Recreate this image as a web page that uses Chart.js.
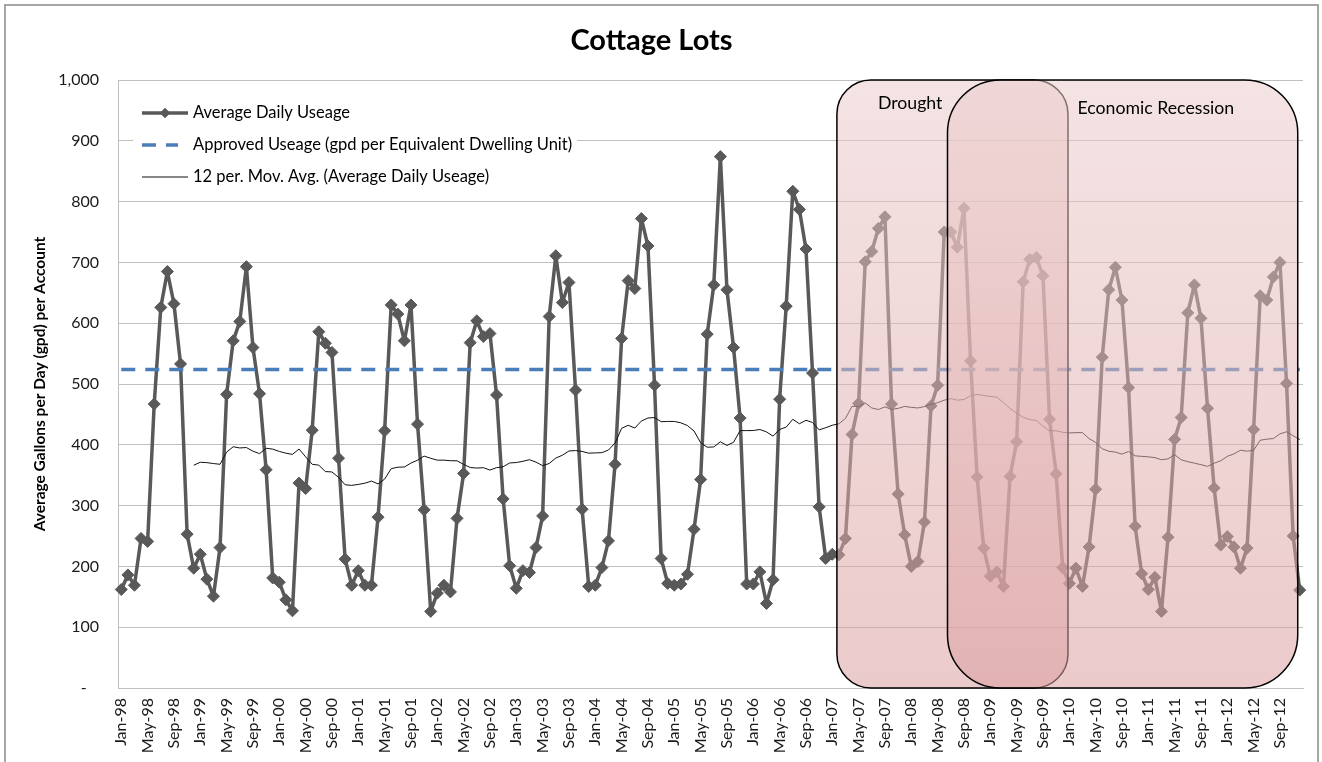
<!DOCTYPE html>
<html>
<head>
<meta charset="utf-8">
<title>Cottage Lots</title>
<script src="https://cdn.jsdelivr.net/npm/chart.js@4.4.1/dist/chart.umd.min.js"></script>
<style>
  html, body { margin: 0; padding: 0; background: #fff; }
  #wrap { position: relative; width: 1322px; height: 762px; }
</style>
</head>
<body>
<div id="wrap"><canvas id="usage-chart" width="1322" height="762"></canvas></div>
<script>
// Monthly average daily usage per account, Jan-98 .. Dec-12 (one row per year)
const monthNames = ['Jan', 'Feb', 'Mar', 'Apr', 'May', 'Jun', 'Jul', 'Aug', 'Sep', 'Oct', 'Nov', 'Dec'];
const years = ['98', '99', '00', '01', '02', '03', '04', '05', '06', '07', '08', '09', '10', '11', '12'];

const dailyUsage = [
  162, 186, 169, 246, 241, 467, 626, 685, 632, 533, 253, 197, // 1998
  220, 179, 151, 231, 483, 571, 603, 693, 560, 484, 359, 181, // 1999
  174, 145, 127, 337, 328, 424, 586, 567, 552, 378, 212, 169, // 2000
  193, 169, 169, 281, 423, 630, 615, 571, 630, 434, 293, 126, // 2001
  156, 169, 158, 279, 353, 568, 604, 578, 583, 482, 311, 201, // 2002
  164, 193, 190, 231, 283, 611, 711, 634, 667, 490, 294, 167, // 2003
  169, 198, 242, 368, 575, 670, 657, 772, 727, 498, 213, 172, // 2004
  169, 171, 187, 261, 343, 582, 663, 874, 655, 560, 444, 171, // 2005
  171, 191, 139, 178, 475, 628, 817, 787, 722, 518, 298, 213, // 2006
  220, 219, 246, 417, 468, 701, 718, 756, 775, 467, 319, 252, // 2007
  200, 208, 273, 464, 498, 750, 750, 725, 789, 538, 347, 230, // 2008
  184, 191, 167, 348, 405, 668, 705, 708, 678, 442, 352, 198, // 2009
  172, 197, 167, 232, 327, 544, 655, 692, 638, 494, 266, 188, // 2010
  162, 182, 126, 248, 409, 445, 617, 663, 608, 460, 329, 235, // 2011
  249, 232, 197, 230, 425, 645, 638, 676, 700, 501, 250, 161  // 2012
];

// approved gpd per equivalent dwelling unit
const approvedUsage = 524;

// shaded periods, in month index (0 = Jan-98)
const periods = [
  { label: 'Drought', from: 108.7, to: 143.8 },
  { label: 'Economic Recession', from: 125.5, to: 178.7 }
];

const months = [];
years.forEach(y => monthNames.forEach(m => months.push(m + '-' + y)));

// Excel style 12 period moving average trendline
function movingAverage(values, n) {
  return values.map((v, i) => {
    if (i < n - 1) return null;
    let sum = 0;
    for (let k = i - n + 1; k <= i; k++) sum += values[k];
    return sum / n;
  });
}

const FONT = 'Lato';

function roundedRect(ctx, x0, y0, x1, y1, r) {
  ctx.beginPath();
  ctx.moveTo(x0 + r, y0);
  ctx.arcTo(x1, y0, x1, y1, r);
  ctx.arcTo(x1, y1, x0, y1, r);
  ctx.arcTo(x0, y1, x0, y0, r);
  ctx.arcTo(x0, y0, x1, y0, r);
  ctx.closePath();
}

// white background + thin outer frame
const framePlugin = {
  id: 'frame',
  beforeDraw(chart) {
    const ctx = chart.ctx;
    ctx.save();
    ctx.fillStyle = '#fff';
    ctx.fillRect(0, 0, chart.width, chart.height);
    ctx.strokeStyle = '#a6a6a6';
    ctx.lineWidth = 2;
    ctx.strokeRect(5, 5, chart.width - 9, chart.height + 10);
    ctx.restore();
  }
};

// legend boxed inside the plot area, top left
const insideLegend = {
  id: 'insideLegend',
  beforeDatasetsDraw(chart) {
    const ctx = chart.ctx;
    const area = chart.chartArea;
    const x0 = area.left + 15;
    const top = area.top + 12;
    ctx.save();
    ctx.fillStyle = '#fff';
    ctx.fillRect(x0, top, 444, 103);
    ctx.font = '16.5px ' + FONT;
    ctx.textBaseline = 'middle';
    ctx.fillStyle = '#000';
    chart.data.datasets.forEach((ds, i) => {
      const y = top + 21 + i * 32;
      const sx = area.left + 24;
      const len = i === 1 ? 36 : 46;
      ctx.strokeStyle = ds.borderColor;
      ctx.lineWidth = ds.borderWidth;
      ctx.setLineDash(ds.borderDash || []);
      ctx.beginPath();
      ctx.moveTo(sx, y);
      ctx.lineTo(sx + len, y);
      ctx.stroke();
      ctx.setLineDash([]);
      if (ds.pointRadius > 0) {
        ctx.fillStyle = ds.backgroundColor;
        Chart.helpers.drawPoint(ctx, { pointStyle: ds.pointStyle, radius: 5, borderWidth: 0 }, sx + len / 2, y);
        ctx.fill();
      }
      ctx.fillStyle = '#000';
      ctx.fillText(ds.label, area.left + 75, y);
    });
    ctx.restore();
  }
};

// translucent rounded boxes marking the drought and the recession
const periodBoxes = {
  id: 'periodBoxes',
  afterDatasetsDraw(chart) {
    const ctx = chart.ctx;
    const xs = chart.scales.x;
    const ys = chart.scales.y;
    const top = ys.getPixelForValue(1000);
    const bottom = ys.getPixelForValue(0);
    const styles = [
      { radius: 34, textDx: 41, textDy: 23 },
      { radius: 53, textDx: 130, textDy: 28 }
    ];
    ctx.save();
    periods.forEach((p, i) => {
      const st = styles[i];
      const x0 = xs.getPixelForValue(p.from);
      const x1 = xs.getPixelForValue(p.to);
      const grad = ctx.createLinearGradient(0, top, 0, bottom);
      grad.addColorStop(0, 'rgba(236,205,205,0.55)');
      grad.addColorStop(1, 'rgba(219,159,160,0.55)');
      roundedRect(ctx, x0, top, x1, bottom, st.radius);
      ctx.fillStyle = grad;
      ctx.fill();
      ctx.strokeStyle = '#000';
      ctx.lineWidth = 1.5;
      ctx.stroke();
    });
    ctx.font = '17.7px ' + FONT;
    ctx.fillStyle = '#000';
    ctx.textBaseline = 'middle';
    periods.forEach((p, i) => {
      const st = styles[i];
      ctx.fillText(p.label, xs.getPixelForValue(p.from) + st.textDx, top + st.textDy);
    });
    ctx.restore();
  }
};

const ctx = document.getElementById('usage-chart');
const chart = new Chart(ctx, {
  type: 'line',
  data: {
    labels: months,
    datasets: [
      {
        label: 'Average Daily Useage',
        data: dailyUsage,
        borderColor: '#595959',
        backgroundColor: '#595959',
        borderWidth: 3.5,
        borderJoinStyle: 'round',
        borderCapStyle: 'round',
        pointStyle: 'rectRot',
        pointRadius: 6,
        pointBorderWidth: 1,
        tension: 0,
        order: 3
      },
      {
        label: 'Approved Useage (gpd per Equivalent Dwelling Unit)',
        data: months.map(() => approvedUsage),
        borderColor: '#4a7ebb',
        borderWidth: 3.5,
        borderDash: [14, 10],
        pointRadius: 0,
        order: 2
      },
      {
        label: '12 per. Mov. Avg. (Average Daily Useage)',
        data: movingAverage(dailyUsage, 12),
        borderColor: '#111',
        borderWidth: 1,
        borderJoinStyle: 'round',
        pointRadius: 0,
        order: 1
      }
    ]
  },
  options: {
    responsive: false,
    animation: false,
    devicePixelRatio: 1,
    layout: { padding: { left: 0, right: 19, top: 0, bottom: 0 } },
    plugins: {
      title: {
        display: true,
        text: 'Cottage Lots',
        color: '#000',
        font: { family: FONT, size: 29, weight: 'bold' },
        padding: { top: 23.6, bottom: 21.6 }
      },
      legend: { display: false },
      tooltip: { enabled: false }
    },
    scales: {
      x: {
        offset: true,
        grid: { display: false, drawTicks: false },
        border: { display: true, color: '#bfbfbf' },
        ticks: {
          autoSkip: false,
          minRotation: 90,
          maxRotation: 90,
          padding: 10,
          color: '#1a1a1a',
          font: { family: FONT, size: 16 },
          callback: (v, i) => (i % 4 === 0 ? months[i] : null)
        },
        afterFit: s => { s.height = 74; }
      },
      y: {
        min: 0,
        max: 1000,
        grid: { color: '#bfbfbf', drawTicks: false },
        border: { display: true, color: '#bfbfbf' },
        ticks: {
          stepSize: 100,
          padding: 19,
          color: '#1a1a1a',
          font: { family: FONT, size: 16 },
          callback: v => (v === 0 ? '-   ' : v.toLocaleString('en-US'))
        },
        title: {
          display: true,
          text: 'Average Gallons per Day (gpd) per Account',
          color: '#000',
          font: { family: FONT, size: 15.5, weight: 'bold' },
          padding: { top: 30.7, bottom: 0 }
        },
        afterFit: s => { s.width = 118; }
      }
    }
  },
  plugins: [framePlugin, insideLegend, periodBoxes]
});
</script>
</body>
</html>
